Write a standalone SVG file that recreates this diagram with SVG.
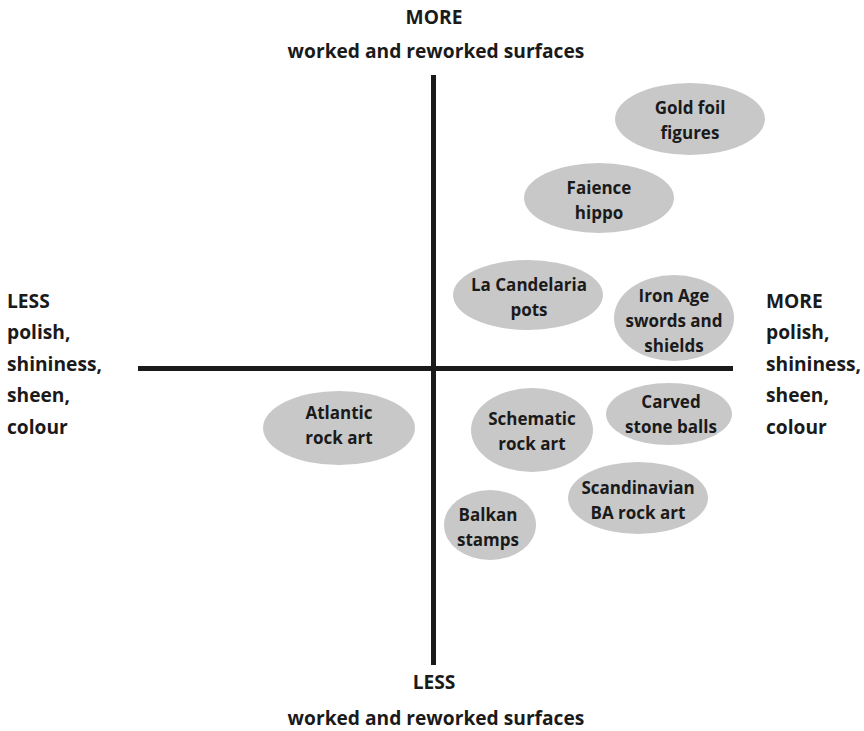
<svg xmlns="http://www.w3.org/2000/svg" width="864" height="731" viewBox="0 0 864 731">
<style>
text{font-family:"Open Sans","Liberation Sans",sans-serif;font-weight:bold;font-size:17px;fill:#1a1a1a}
.l{font-size:19.2px}
.c{text-anchor:middle}
ellipse{fill:#c8c8c8}
.ax{stroke:#1a1a1a;stroke-width:5;fill:none}
</style>
<rect width="864" height="731" fill="#fff"/>
<g id="connectors">
<line class="ax" x1="433.5" y1="75" x2="433.5" y2="665"/>
<line class="ax" x1="138" y1="368.5" x2="733" y2="368.5"/>
</g>
<g id="top-label"><text class="c l" x="434" y="24">MORE</text><text class="c l" x="436" y="58">worked and reworked surfaces</text></g>
<g id="bottom-label"><text class="c l" x="434" y="689">LESS</text><text class="c l" x="436" y="725">worked and reworked surfaces</text></g>
<g id="left-label"><text class="l" x="7" y="308">LESS</text><text class="l" x="7" y="339">polish,</text><text class="l" x="7" y="371">shininess,</text><text class="l" x="7" y="402">sheen,</text><text class="l" x="7" y="434">colour</text></g>
<g id="right-label"><text class="l" x="766" y="308">MORE</text><text class="l" x="766" y="339">polish,</text><text class="l" x="766" y="371">shininess,</text><text class="l" x="766" y="402">sheen,</text><text class="l" x="766" y="434">colour</text></g>
<g id="gold"><ellipse cx="690" cy="119" rx="75" ry="36"/><text class="c" x="690" y="114">Gold foil</text><text class="c" x="690" y="139">figures</text></g>
<g id="faience"><ellipse cx="599" cy="198" rx="75" ry="35"/><text class="c" x="599" y="194">Faience</text><text class="c" x="599" y="219">hippo</text></g>
<g id="candelaria"><ellipse cx="528" cy="295" rx="75" ry="35"/><text class="c" x="529" y="291">La Candelaria</text><text class="c" x="529" y="316">pots</text></g>
<g id="ironage"><ellipse cx="674" cy="318" rx="60" ry="43"/><text class="c" x="674" y="302">Iron Age</text><text class="c" x="674" y="327">swords and</text><text class="c" x="674" y="352">shields</text></g>
<g id="atlantic"><ellipse cx="339" cy="428" rx="76" ry="37"/><text class="c" x="339" y="419">Atlantic</text><text class="c" x="339" y="444">rock art</text></g>
<g id="schematic"><ellipse cx="532" cy="430" rx="61" ry="42"/><text class="c" x="532" y="425">Schematic</text><text class="c" x="532" y="450">rock art</text></g>
<g id="carved"><ellipse cx="669" cy="414" rx="63" ry="31"/><text class="c" x="671" y="408">Carved</text><text class="c" x="671" y="433">stone balls</text></g>
<g id="scandinavian"><ellipse cx="638" cy="498" rx="70" ry="36"/><text class="c" x="638" y="494">Scandinavian</text><text class="c" x="638" y="519">BA rock art</text></g>
<g id="balkan"><ellipse cx="490" cy="525" rx="46" ry="35"/><text class="c" x="488" y="521">Balkan</text><text class="c" x="488" y="546">stamps</text></g>
</svg>
